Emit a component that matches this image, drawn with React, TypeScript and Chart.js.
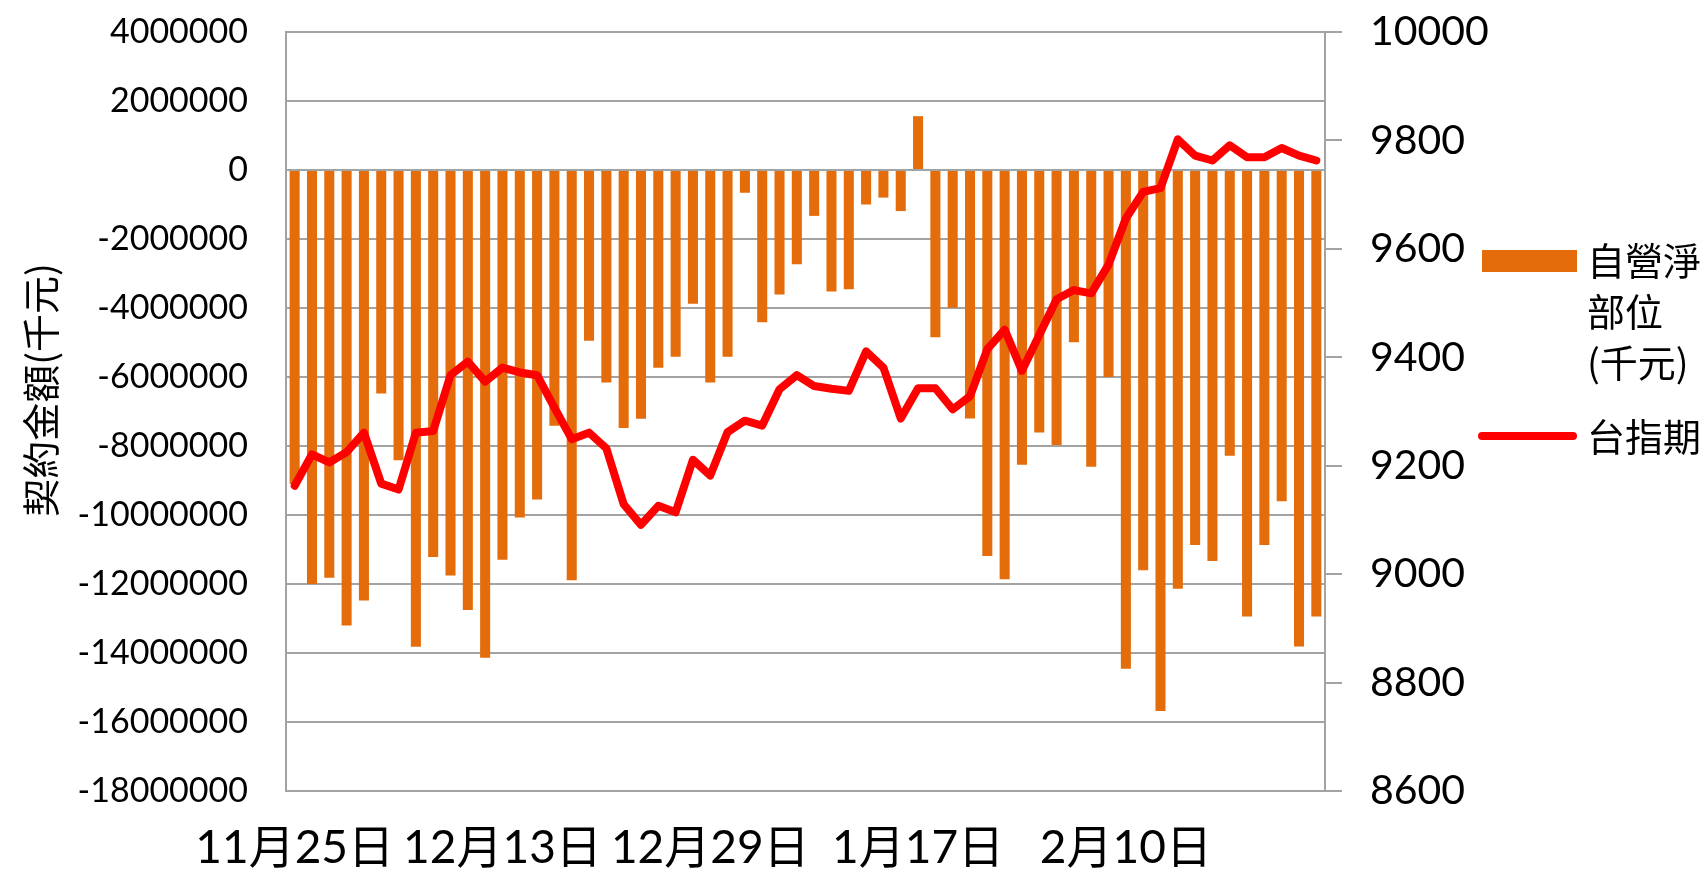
import React, { useEffect, useRef } from "react";
import { Chart, registerables } from "chart.js";

Chart.register(...registerables);

const dateLabels: string[] = [
  "11月25日", "11月28日", "11月29日", "11月30日", "12月1日", "12月2日", "12月5日", "12月6日", "12月7日", "12月8日",
  "12月9日", "12月12日", "12月13日", "12月14日", "12月15日", "12月16日", "12月19日", "12月20日", "12月21日", "12月22日",
  "12月23日", "12月26日", "12月27日", "12月28日", "12月29日", "12月30日", "1月3日", "1月4日", "1月5日", "1月6日",
  "1月9日", "1月10日", "1月11日", "1月12日", "1月13日", "1月16日", "1月17日", "1月18日", "1月19日", "1月20日",
  "1月23日", "1月24日", "2月2日", "2月3日", "2月6日", "2月7日", "2月8日", "2月9日", "2月10日", "2月13日",
  "2月14日", "2月15日", "2月16日", "2月17日", "2月18日", "2月20日", "2月21日", "2月22日", "2月23日", "2月24日",
];

const netPosition: number[] = [
  -9100000, -12000000, -11820000, -13200000, -12480000, -6480000, -8410000, -13820000, -11220000, -11750000,
  -12750000, -14140000, -11300000, -10070000, -9550000, -7410000, -11890000, -4950000, -6160000, -7480000,
  -7210000, -5730000, -5410000, -3880000, -6160000, -5410000, -660000, -4410000, -3610000, -2730000,
  -1330000, -3520000, -3460000, -1000000, -800000, -1190000, 1560000, -4850000, -3990000, -7200000,
  -11190000, -11860000, -8540000, -7610000, -7970000, -4990000, -8600000, -6000000, -14460000, -11600000,
  -15680000, -12140000, -10870000, -11330000, -8280000, -12940000, -10870000, -9600000, -13810000, -12940000,
];

const futuresIndex: number[] = [
  9163, 9221, 9206, 9225, 9261, 9167, 9156, 9261, 9264, 9367,
  9392, 9355, 9381, 9372, 9367, 9307, 9249, 9261, 9232, 9129,
  9091, 9126, 9114, 9211, 9182, 9262, 9283, 9274, 9341, 9367,
  9347, 9342, 9338, 9411, 9381, 9287, 9343, 9343, 9304, 9328,
  9415, 9451, 9375, 9441, 9507, 9524, 9518, 9571, 9656, 9705,
  9712, 9802, 9772, 9763, 9791, 9769, 9769, 9786, 9772, 9763,
];

const barLabel = "自營淨部位(千元)";
const lineLabel = "台指期";
const yTitle = "契約金額(千元)";

const FONT = "Lato, 'Noto Sans CJK TC', sans-serif";
const CJK = "'Noto Sans CJK TC', sans-serif";
const GRID = "#a3a3a3";

export default function App() {
  const ref = useRef<HTMLCanvasElement | null>(null);

  useEffect(() => {
    document.body.style.margin = "0";
    const ctx = ref.current!.getContext("2d")!;
    const chart = new Chart(ctx, {
      type: "bar",
      data: {
        labels: dateLabels,
        datasets: [
          {
            type: "line",
            label: lineLabel,
            data: futuresIndex,
            yAxisID: "y1",
            borderColor: "#ff0000",
            backgroundColor: "#ff0000",
            borderWidth: 8,
            pointRadius: 0,
            tension: 0,
            borderJoinStyle: "round",
            borderCapStyle: "round",
            order: 0,
          } as any,
          {
            type: "bar",
            label: barLabel,
            data: netPosition,
            yAxisID: "y",
            backgroundColor: "#e46c0a",
            categoryPercentage: 1,
            barPercentage: 0.58,
            order: 1,
          } as any,
        ],
      },
      options: {
        animation: false,
        responsive: false,
        maintainAspectRatio: false,
        layout: { autoPadding: false, padding: { top: 32, left: 0, right: 0, bottom: 0 } },
        plugins: { legend: { display: false }, tooltip: { enabled: false } },
        scales: {
          x: {
            grid: { display: false, drawTicks: false },
            border: { display: true, color: GRID, width: 2 },
            ticks: {
              autoSkip: false,
              maxRotation: 0,
              minRotation: 0,
              padding: 30,
              color: "#000",
              font: { size: 46, family: FONT },
              callback: (_v: any, i: number) => (i % 12 === 0 ? dateLabels[i] : ""),
            },
            afterFit: (s: any) => {
              s.height = 81;
              s.paddingLeft = 0;
              s.paddingRight = 0;
            },
          },
          y: {
            position: "left",
            min: -18000000,
            max: 4000000,
            grid: { color: GRID, lineWidth: 2, drawTicks: false },
            border: { display: true, color: GRID, width: 2 },
            ticks: {
              stepSize: 2000000,
              padding: 38,
              color: "#000",
              font: { size: 34, family: FONT },
              callback: (v: any) => String(v),
            },
            afterFit: (s: any) => {
              s.width = 286;
              s.paddingTop = 0;
              s.paddingBottom = 0;
            },
          },
          y1: {
            position: "right",
            min: 8600,
            max: 10000,
            grid: { drawOnChartArea: false, color: GRID, lineWidth: 2, tickLength: 17 },
            border: { display: true, color: GRID, width: 2 },
            ticks: {
              stepSize: 200,
              padding: 28,
              color: "#000",
              font: { size: 41, family: FONT },
              callback: (v: any) => String(v),
            },
            afterFit: (s: any) => {
              s.width = 380;
              s.paddingTop = 0;
              s.paddingBottom = 0;
            },
          },
        },
      },
    });
    return () => chart.destroy();
  }, []);

  return (
    <div style={{ position: "fixed", left: 0, top: 0, width: 1705, height: 872, background: "#fff", overflow: "hidden" }}>
      <canvas ref={ref} width={1705} height={872} style={{ position: "absolute", left: 0, top: 0, width: 1705, height: 872 }} />
      <div
        style={{
          position: "absolute",
          left: 33 - 150,
          top: 390 - 22,
          width: 300,
          height: 44,
          lineHeight: "44px",
          textAlign: "center",
          transform: "rotate(-90deg)",
          font: `38px ${CJK}`,
          color: "#000",
          whiteSpace: "nowrap",
        }}
      >
        {yTitle}
      </div>
      <div style={{ position: "absolute", left: 1482, top: 250, width: 95, height: 22, background: "#e46c0a" }} />
      <div
        style={{
          position: "absolute",
          left: 1587,
          top: 258 - 25,
          font: `38px ${CJK}`,
          lineHeight: "51px",
          color: "#000",
          whiteSpace: "nowrap",
        }}
      >
        自營淨
        <br />
        部位
        <br />
        (千元)
      </div>
      <div style={{ position: "absolute", left: 1478, top: 432, width: 99, height: 8, borderRadius: 4, background: "#ff0000" }} />
      <div
        style={{
          position: "absolute",
          left: 1587,
          top: 434 - 25,
          font: `38px ${CJK}`,
          lineHeight: "51px",
          color: "#000",
          whiteSpace: "nowrap",
        }}
      >
        {lineLabel}
      </div>
    </div>
  );
}
